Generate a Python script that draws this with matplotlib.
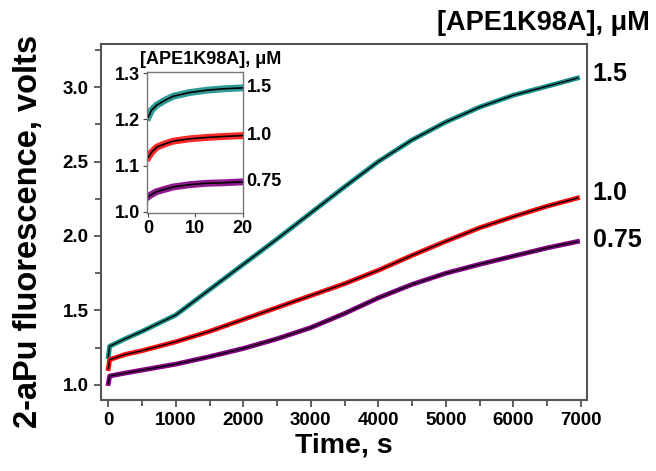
import matplotlib
matplotlib.use("Agg")
import matplotlib.pyplot as plt
from matplotlib.ticker import MultipleLocator, FormatStrFormatter

plt.rcParams['font.family'] = ['Liberation Sans', 'DejaVu Sans']
plt.rcParams['font.weight'] = 'bold'

# main traces (time in s, signal in volts)
t_main = [0, 20, 250, 500, 1000, 1500, 2000, 2500, 3000, 3500, 4000, 4500, 5000, 5500, 6000, 6500, 6950]
teal_main = [1.19, 1.26, 1.31, 1.36, 1.47, 1.64, 1.81, 1.98, 2.155, 2.33, 2.50, 2.645, 2.765, 2.865, 2.945, 3.005, 3.06]
red_main = [1.11, 1.17, 1.205, 1.23, 1.29, 1.36, 1.44, 1.52, 1.60, 1.68, 1.77, 1.87, 1.965, 2.055, 2.13, 2.20, 2.255]
purple_main = [1.01, 1.06, 1.08, 1.10, 1.14, 1.19, 1.245, 1.31, 1.385, 1.48, 1.585, 1.675, 1.75, 1.81, 1.865, 1.92, 1.963]

# first 20 s (inset)
t_ins = [0, 0.7, 1.8, 3.5, 5.3, 8.8, 12.4, 15.9, 20]
teal_ins = [1.205, 1.220, 1.231, 1.241, 1.250, 1.258, 1.263, 1.266, 1.268]
red_ins = [1.118, 1.129, 1.140, 1.147, 1.153, 1.158, 1.161, 1.163, 1.165]
purple_ins = [1.033, 1.038, 1.044, 1.049, 1.054, 1.059, 1.062, 1.063, 1.065]

conc_labels = ['1.5', '1.0', '0.75']
label_y_main = [3.09, 2.29, 1.975]
colors = ['#16908a', '#ff1010', '#820082']

fig = plt.figure(figsize=(6.56, 4.71), dpi=100)
ax = fig.add_axes([0.154, 0.151, 0.741, 0.756])

for y, c in zip([teal_main, red_main, purple_main], colors):
    ax.plot(t_main, y, color=c, lw=3.5, solid_joinstyle='round')
    ax.plot(t_main, y, color='black', lw=1.0)

ax.set_xlim(-108, 7092)
ax.set_ylim(0.9, 3.29)
ax.xaxis.set_major_locator(MultipleLocator(1000))
ax.xaxis.set_minor_locator(MultipleLocator(500))
ax.yaxis.set_major_locator(MultipleLocator(0.5))
ax.yaxis.set_minor_locator(MultipleLocator(0.25))
ax.yaxis.set_major_formatter(FormatStrFormatter('%.1f'))
ax.tick_params(which='both', direction='out', labelsize=13.5, color='#444444', width=1.2)
ax.tick_params(which='major', length=5, pad=4)
ax.tick_params(which='minor', length=4)
for s in ax.spines.values():
    s.set_color('#555555')
    s.set_linewidth(1.5)
ax.set_xlabel('Time, s', fontsize=20.5, fontweight='bold', labelpad=2)
ax.set_ylabel('2-aPu fluorescence, volts', fontsize=23.5, fontweight='bold')
ax.yaxis.set_label_coords(-0.117, 0.472)

# concentration labels at the right
for lab, yv in zip(conc_labels, label_y_main):
    ax.annotate(lab, xy=(1.0, yv), xycoords=('axes fraction', 'data'),
                xytext=(4, 0), textcoords='offset points', fontsize=18,
                fontweight='bold', va='center', ha='left')
fig.text(0.991, 0.951, '[APE1K98A], \u03bcM', fontsize=19.5, fontweight='bold',
         ha='right', va='center')

# inset
axi = fig.add_axes([0.2236, 0.547, 0.1468, 0.3008])
for y, c in zip([teal_ins, red_ins, purple_ins], colors):
    axi.plot(t_ins, y, color=c, lw=5, alpha=0.9, solid_joinstyle='round')
    axi.plot(t_ins, y, color='black', lw=1.2)
axi.set_xlim(-0.34, 20.1)
axi.set_ylim(0.997, 1.303)
axi.xaxis.set_major_locator(MultipleLocator(10))
axi.yaxis.set_major_locator(MultipleLocator(0.1))
axi.yaxis.set_major_formatter(FormatStrFormatter('%.1f'))
axi.tick_params(direction='out', labelsize=13, length=3, color='#444444', pad=1.5)
for s in axi.spines.values():
    s.set_color('#777777')
    s.set_linewidth(1.0)
fig.text(140 / 656, 1 - 59 / 471, '[APE1K98A], \u03bcM', fontsize=13,
         fontweight='bold', ha='left', va='center')
for lab, yv in zip(conc_labels, [teal_ins[-1], red_ins[-1], purple_ins[-1]]):
    axi.annotate(lab, xy=(1.0, yv), xycoords=('axes fraction', 'data'),
                 xytext=(2.5, 0), textcoords='offset points', fontsize=13,
                 fontweight='bold', va='center', ha='left')

fig.savefig('out.png', dpi=100)
